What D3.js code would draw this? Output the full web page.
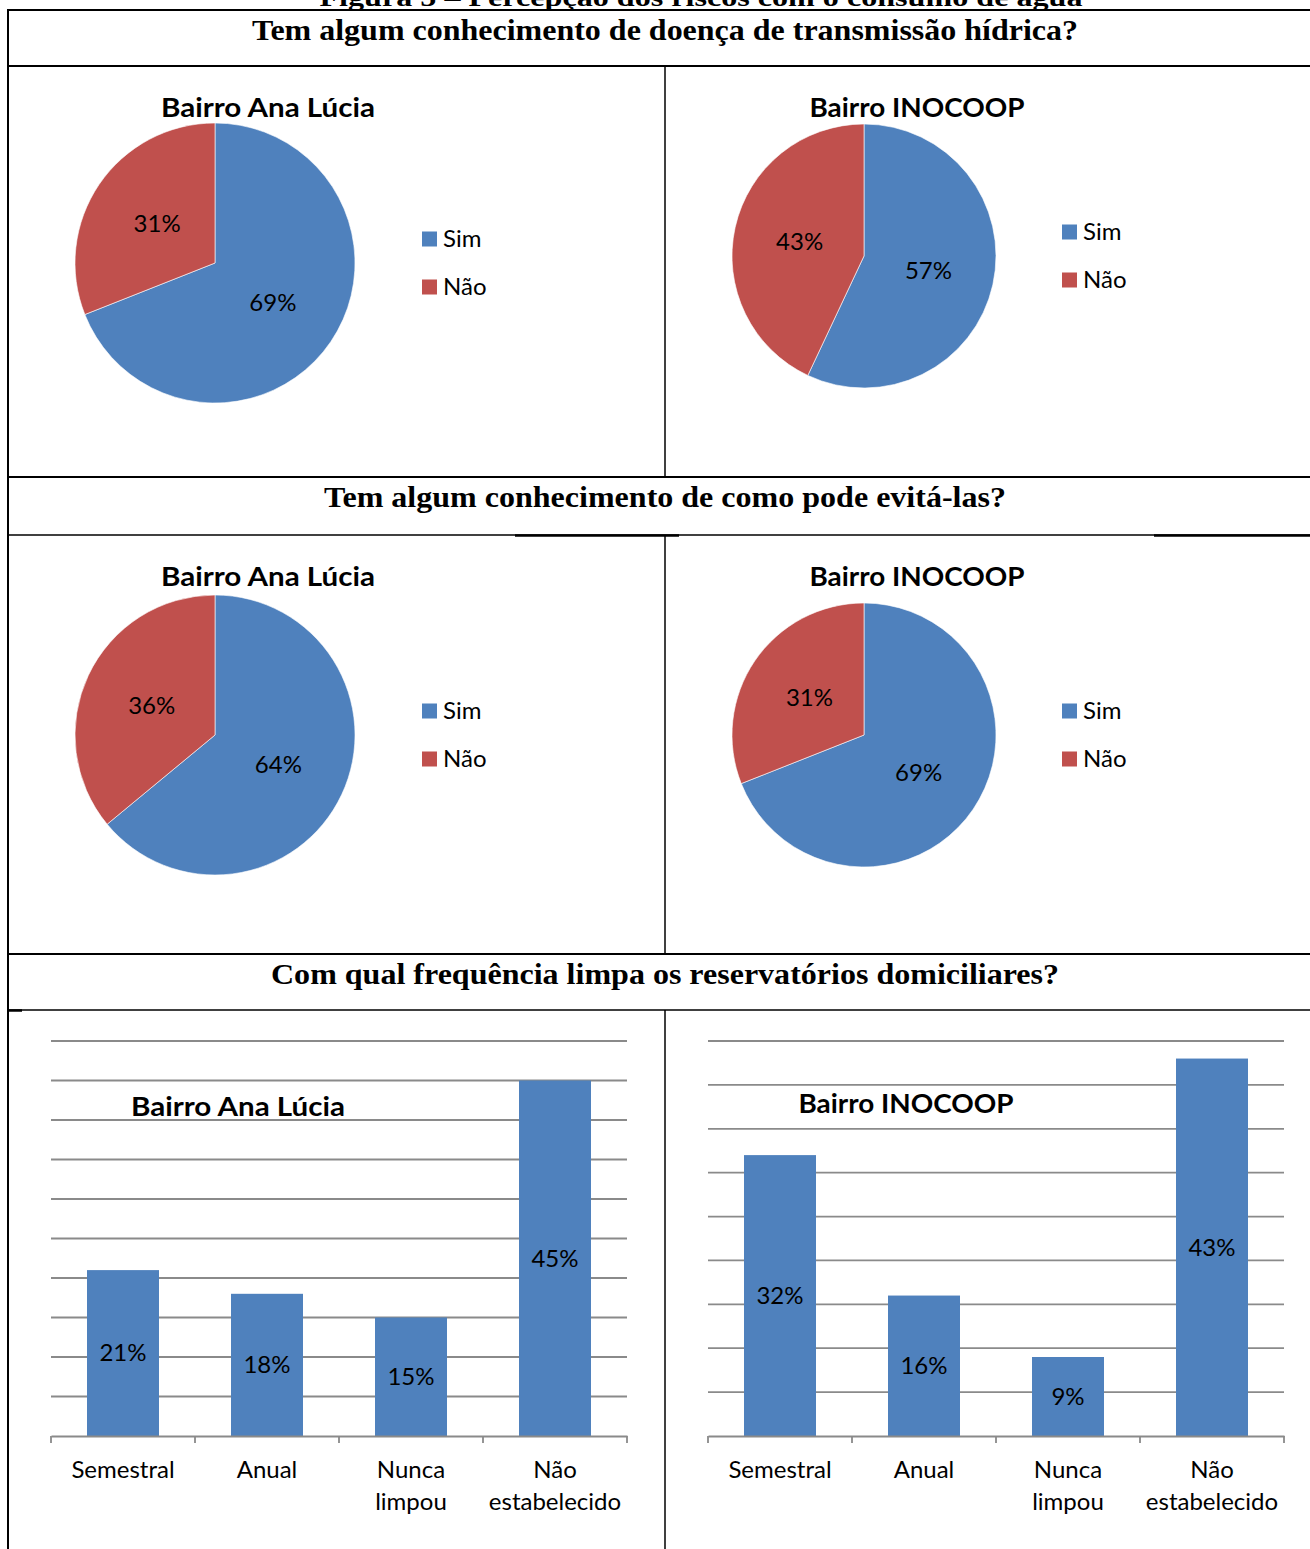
<!DOCTYPE html>
<html>
<head>
<meta charset="utf-8">
<script src="https://cdn.jsdelivr.net/npm/d3@7"></script>
<style>
  html, body { margin: 0; padding: 0; background: #fff; }
  svg { display: block; }
</style>
</head>
<body>
<svg id="chart" width="1310" height="1549"></svg>
<script>
// ---------------- DATA ----------------
const figureCaption = "Figura 5 – Percepção dos riscos com o consumo de água";
const sectionTitles = [
  "Tem algum conhecimento de doença de transmissão hídrica?",
  "Tem algum conhecimento de como pode evitá-las?",
  "Com qual frequência limpa os reservatórios domiciliares?"
];
const neighbourhoods = ["Bairro Ana Lúcia", "Bairro INOCOOP"];
const pieCategories = ["Sim", "Não"];
// Question 1 – knowledge of water-borne diseases (%)
const q1AnaLucia = [69, 31];
const q1Inocoop = [57, 43];
// Question 2 – knowledge of how to avoid them (%)
const q2AnaLucia = [64, 36];
const q2Inocoop = [69, 31];
// Question 3 – frequency of reservoir cleaning (%)
const barCategories = ["Semestral", "Anual", "Nunca limpou", "Não estabelecido"];
const q3AnaLucia = [21, 18, 15, 45];
const q3Inocoop = [32, 16, 9, 43];
const q3AxisMax = [50, 45];
const q3TickStep = 5;

// ---------------- STYLE ----------------
const BLUE = "#4F81BD", RED = "#C0504D", GRID = "#8A8A8A";
const serif = "'Liberation Serif','Times New Roman',serif";
const sans = "Lato,'Open Sans',sans-serif";
const LBL = 24;

const svg = d3.select("#chart");

// ---------------- TABLE FRAME ----------------
const rows = [
  {titleTop: 10, titleBottom: 66, bottom: 477},
  {titleTop: 477, titleBottom: 535, bottom: 954},
  {titleTop: 954, titleBottom: 1010, bottom: 1549}
];
const xLeft = 8, xMid = 665, xRight = 1310;

// caption (partially hidden above the top of the page, as in the source scan)
svg.append("text")
  .attr("x", 701).attr("y", 6)
  .attr("text-anchor", "middle")
  .attr("font-family", serif).attr("font-weight", "bold").attr("font-size", 26)
  .attr("textLength", 763).attr("lengthAdjust", "spacingAndGlyphs")
  .text(figureCaption);

const frame = svg.append("g").attr("stroke", "#000");
rows.forEach((r, i) => {
  frame.append("line").attr("x1", xLeft).attr("x2", xRight)
    .attr("y1", r.titleTop).attr("y2", r.titleTop).attr("stroke-width", 2);
  frame.append("line").attr("x1", xLeft).attr("x2", xRight)
    .attr("y1", r.titleBottom).attr("y2", r.titleBottom).attr("stroke-width", i === 0 ? 2 : 1.5);
  frame.append("line").attr("x1", xMid).attr("x2", xMid)
    .attr("y1", r.titleBottom).attr("y2", r.bottom).attr("stroke-width", 1.5);
});
frame.append("line").attr("x1", xLeft).attr("x2", xLeft)
  .attr("y1", 9).attr("y2", 1549).attr("stroke-width", 2);
// slightly thicker segments on the second row's lower rule
[[515, 679], [1154, 1310]].forEach(s => {
  frame.append("line").attr("x1", s[0]).attr("x2", s[1])
    .attr("y1", 535.5).attr("y2", 535.5).attr("stroke-width", 2.5);
});
frame.append("line").attr("x1", xLeft).attr("x2", 22)
  .attr("y1", 1010.5).attr("y2", 1010.5).attr("stroke-width", 2.5);

// section titles
const titleWidths = [826, 682, 788];
rows.forEach((r, i) => {
  svg.append("text")
    .attr("x", 665).attr("y", r.titleTop + 30)
    .attr("text-anchor", "middle")
    .attr("font-family", serif).attr("font-weight", "bold").attr("font-size", 30)
    .attr("textLength", titleWidths[i]).attr("lengthAdjust", "spacingAndGlyphs")
    .text(sectionTitles[i]);
});

// ---------------- PIE CHARTS ----------------
const pies = [
  {title: neighbourhoods[0], values: q1AnaLucia, cx: 215, cy: 263, r: 140, legendX: 422, titleW: 214},
  {title: neighbourhoods[1], values: q1Inocoop,  cx: 864, cy: 256, r: 132, legendX: 1062, titleW: 215},
  {title: neighbourhoods[0], values: q2AnaLucia, cx: 215, cy: 735, r: 140, legendX: 422, titleW: 214},
  {title: neighbourhoods[1], values: q2Inocoop,  cx: 864, cy: 735, r: 132, legendX: 1062, titleW: 215}
];
const pieTitleY = [117, 117, 586, 586];
const pieColour = d3.scaleOrdinal().domain(pieCategories).range([BLUE, RED]);
const pieGen = d3.pie().sort(null).value(d => d.v);

pies.forEach((p, pi) => {
  const data = pieCategories.map((c, i) => ({c, v: p.values[i]}));
  const arcs = pieGen(data);
  const arc = d3.arc().innerRadius(0).outerRadius(p.r);
  const labelArc = d3.arc().innerRadius(0).outerRadius(p.r);
  const g = svg.append("g").attr("transform", `translate(${p.cx},${p.cy})`);
  g.selectAll("path").data(arcs).join("path")
    .attr("d", arc).attr("fill", d => pieColour(d.data.c))
    .attr("stroke", "#fff").attr("stroke-width", 0.6);
  g.selectAll("text.lbl").data(arcs).join("text").attr("class", "lbl")
    .attr("transform", d => `translate(${labelArc.centroid(d)})`)
    .attr("text-anchor", "middle").attr("dy", "0.35em")
    .attr("font-family", sans).attr("font-size", LBL).attr("fill", "#000")
    .text(d => d.data.v + "%");
  // title
  svg.append("text")
    .attr("x", p.cx + 53).attr("y", pieTitleY[pi])
    .attr("text-anchor", "middle")
    .attr("font-family", sans).attr("font-weight", "bold").attr("font-size", 26)
    .attr("textLength", p.titleW).attr("lengthAdjust", "spacingAndGlyphs")
    .text(p.title);
  // legend
  const lg = svg.append("g").attr("transform", `translate(${p.legendX},${p.cy - 24})`);
  pieCategories.forEach((c, i) => {
    lg.append("rect").attr("x", 0).attr("y", i * 48 - 7.5)
      .attr("width", 15).attr("height", 15).attr("fill", pieColour(c));
    lg.append("text").attr("x", 21).attr("y", i * 48).attr("dy", "0.35em")
      .attr("font-family", sans).attr("font-size", LBL).attr("fill", "#000")
      .text(c);
  });
});

// ---------------- BAR CHARTS ----------------
const bars = [
  {title: neighbourhoods[0], values: q3AnaLucia, max: q3AxisMax[0], x0: 51, x1: 627, titleX: 238, titleY: 1116},
  {title: neighbourhoods[1], values: q3Inocoop,  max: q3AxisMax[1], x0: 708, x1: 1284, titleX: 906, titleY: 1113}
];
const plotTop = 1041, plotBottom = 1436;

bars.forEach(b => {
  const x = d3.scaleBand().domain(barCategories).range([b.x0, b.x1])
    .paddingInner(0.5).paddingOuter(0.25);
  const y = d3.scaleLinear().domain([0, b.max]).range([plotBottom, plotTop]);
  const g = svg.append("g");
  // gridlines
  const ticks = d3.range(q3TickStep, b.max + 0.001, q3TickStep);
  g.append("g").selectAll("line").data(ticks).join("line")
    .attr("x1", b.x0).attr("x2", b.x1)
    .attr("y1", d => y(d)).attr("y2", d => y(d))
    .attr("stroke", GRID).attr("stroke-width", 1.8);
  // title
  g.append("text").attr("x", b.titleX).attr("y", b.titleY)
    .attr("text-anchor", "middle")
    .attr("font-family", sans).attr("font-weight", "bold").attr("font-size", 26)
    .attr("textLength", b.title === neighbourhoods[0] ? 214 : 215).attr("lengthAdjust", "spacingAndGlyphs")
    .text(b.title);
  // bars
  g.append("g").selectAll("rect").data(b.values).join("rect")
    .attr("x", (d, i) => x(barCategories[i]))
    .attr("width", x.bandwidth())
    .attr("y", d => y(d))
    .attr("height", d => y(0) - y(d))
    .attr("fill", BLUE);
  // value labels
  g.append("g").selectAll("text").data(b.values).join("text")
    .attr("x", (d, i) => x(barCategories[i]) + x.bandwidth() / 2)
    .attr("y", d => (y(d) + y(0)) / 2)
    .attr("dy", "0.35em").attr("text-anchor", "middle")
    .attr("font-family", sans).attr("font-size", LBL).attr("fill", "#000")
    .text(d => d + "%");
  // x axis
  const axis = g.append("g").attr("transform", `translate(0,${plotBottom})`)
    .call(d3.axisBottom(x).tickSize(0).tickFormat(""));
  axis.select(".domain").attr("stroke", GRID).attr("stroke-width", 1.8);
  const edges = barCategories.map(c => x(c) - x.step() * x.paddingInner() / 2).concat([b.x1]);
  edges[0] = b.x0;
  axis.selectAll("line.edge").data(edges).join("line").attr("class", "edge")
    .attr("x1", d => d).attr("x2", d => d).attr("y1", 0).attr("y2", 7)
    .attr("stroke", GRID).attr("stroke-width", 1.8);
  // category labels (wrapped on spaces for two-word categories)
  barCategories.forEach(c => {
    const words = c.split(" ");
    const t = g.append("text")
      .attr("x", x(c) + x.bandwidth() / 2).attr("y", 1478)
      .attr("text-anchor", "middle")
      .attr("font-family", sans).attr("font-size", LBL).attr("fill", "#000");
    words.forEach((w, i) => {
      t.append("tspan").attr("x", x(c) + x.bandwidth() / 2)
        .attr("dy", i === 0 ? 0 : 32).text(w);
    });
  });
});
</script>
</body>
</html>
